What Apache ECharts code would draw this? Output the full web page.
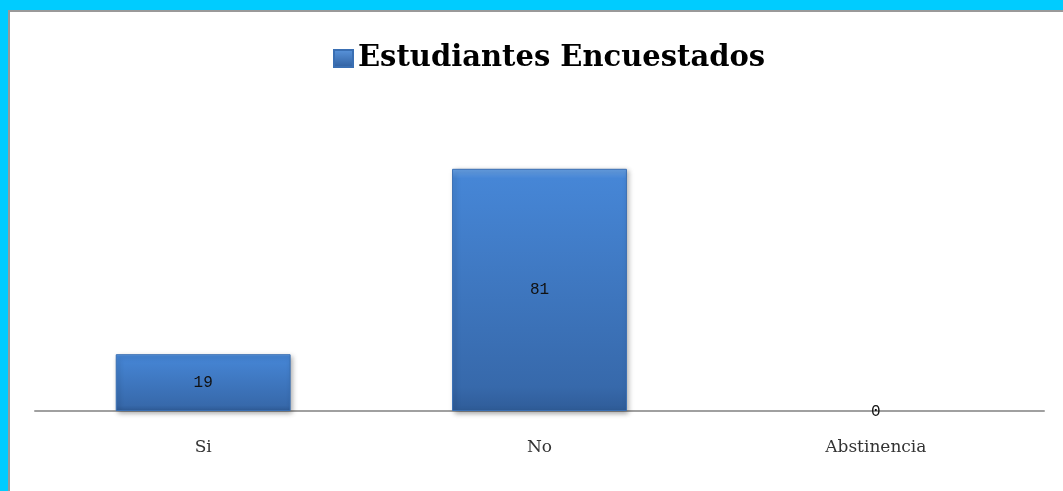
<!DOCTYPE html>
<html>
<head>
<meta charset="utf-8">
<script src="https://cdn.jsdelivr.net/npm/echarts@6/dist/echarts.min.js"></script>
<style>
html,body{margin:0;padding:0;background:#fff;}
#wrap{position:relative;width:1063px;height:491px;overflow:hidden;}
#chart{position:absolute;left:0;top:0;width:1063px;height:491px;}
.b{position:absolute;}
</style>
</head>
<body>
<div id="wrap">
<div id="chart"></div>
<div class="b" style="left:0;top:0;width:1063px;height:10px;background:#00CCFF"></div>
<div class="b" style="left:0;top:0;width:8px;height:491px;background:#00CCFF"></div>
<div class="b" style="left:8px;top:10px;width:1055px;height:2px;background:#999"></div>
<div class="b" style="left:8px;top:10px;width:2px;height:481px;background:#999"></div>
</div>
<script>
const categories = ['Si', 'No', 'Abstinencia'];
const seriesName = 'Estudiantes Encuestados';
const values = [19, 81, 0];

const barGradient = new echarts.graphic.LinearGradient(0,0,0,1,[
  {offset:0,color:'#6aa3e6'},
  {offset:0.04,color:'#4686d6'},
  {offset:0.9,color:'#3769ab'},
  {offset:1,color:'#2f5c98'}
]);

const chart = echarts.init(document.getElementById('chart'));
chart.setOption({
  animation: false,
  backgroundColor: '#fff',
  legend: {
    top: 39,
    left: 328,
    itemWidth: 19,
    itemHeight: 17,
    itemGap: 9,
    icon: 'rect',
    data: [{name: seriesName, itemStyle: {color: new echarts.graphic.LinearGradient(0,0,0,1,[{offset:0,color:'#5a95dd'},{offset:1,color:'#2f5f9f'}])}}],
    textStyle: {fontFamily: 'DejaVu Serif', fontWeight: 'bold', fontSize: 29, color: '#000'}
  },
  grid: {left: 35, right: 19, top: 112, bottom: 80},
  xAxis: {
    type: 'category',
    data: categories,
    axisLine: {lineStyle: {color: '#a0a0a0', width: 2}},
    axisTick: {show: false},
    axisLabel: {fontFamily: 'DejaVu Serif', fontSize: 17, color: '#333', margin: 28}
  },
  yAxis: {
    type: 'value', min: 0, max: 100,
    show: false,
    splitLine: {show: false}
  },
  series: [{
    name: seriesName,
    type: 'bar',
    data: values.map(v => v === 0
      ? {value: v, itemStyle: {borderWidth: 0, shadowBlur: 0, shadowOffsetX: 0, shadowOffsetY: 0, color: 'rgba(0,0,0,0)'}, label: {offset: [0, 1]}}
      : v),
    barWidth: '52%',
    itemStyle: {
      color: barGradient,
      borderColor: '#3a6fb3',
      borderWidth: 1,
      shadowColor: 'rgba(0,0,0,0.35)',
      shadowBlur: 5,
      shadowOffsetX: 2,
      shadowOffsetY: 2
    },
    label: {
      show: true,
      position: 'inside',
      fontFamily: 'Liberation Mono',
      fontSize: 16,
      color: '#111'
    }
  }]
});
</script>
</body>
</html>
